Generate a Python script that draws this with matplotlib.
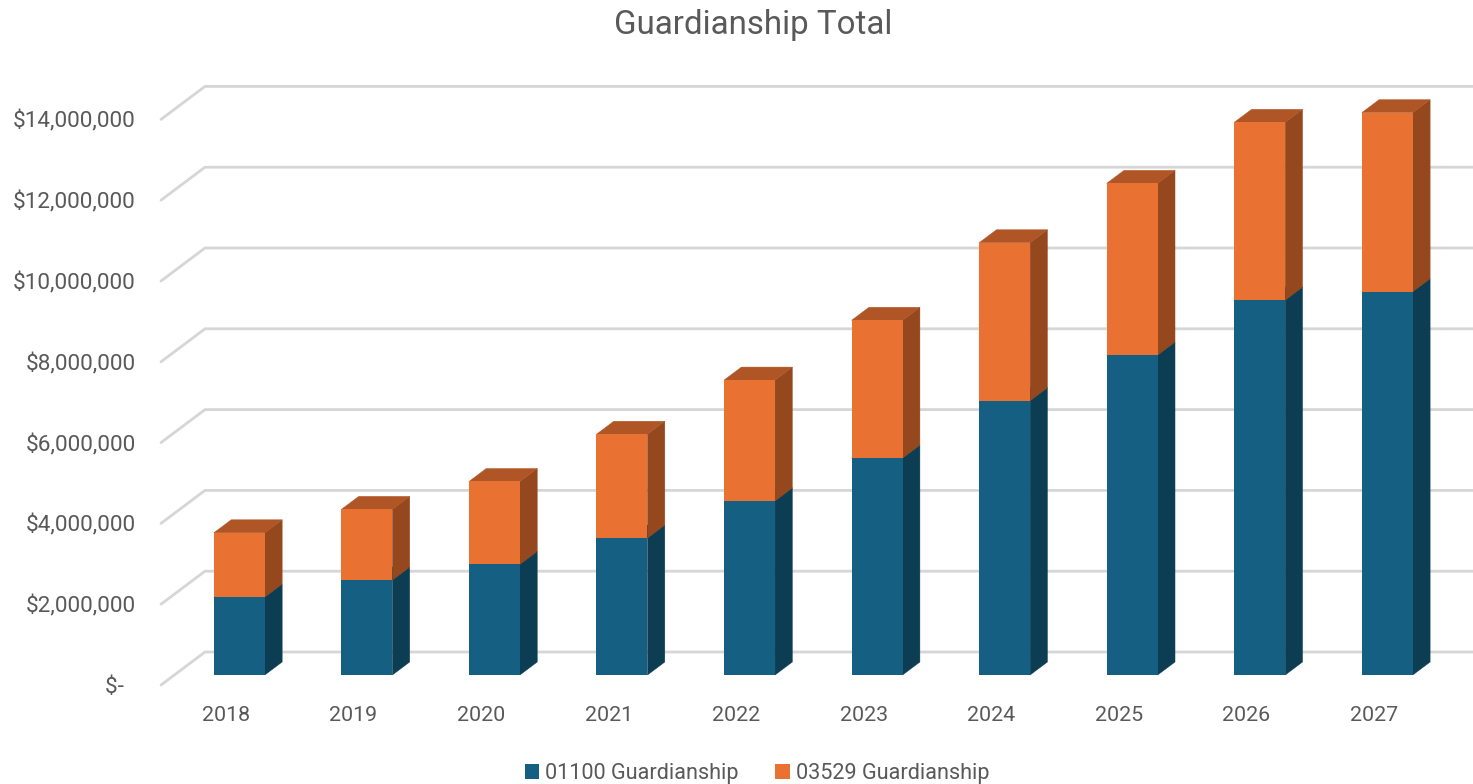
import matplotlib
matplotlib.use("Agg")
import matplotlib.pyplot as plt
from matplotlib.patches import Polygon
from matplotlib.transforms import IdentityTransform, Affine2D
from matplotlib.lines import Line2D

plt.rcParams['font.family'] = ['Roboto', 'DejaVu Sans']

years = ['2018', '2019', '2020', '2021', '2022', '2023', '2024', '2025', '2026', '2027']
series_01100 = [1930000, 2350000, 2740000, 3390000, 4310000, 5370000, 6790000, 7920000, 9280000, 9490000]
series_03529 = [1590000, 1750000, 2050000, 2570000, 2990000, 3410000, 3910000, 4250000, 4400000, 4430000]
series_names = ['01100 Guardianship', '03529 Guardianship']
grid_values = [0, 2000000, 4000000, 6000000, 8000000, 10000000, 12000000, 14000000]
grid_labels = ['$-  ', '$2,000,000', '$4,000,000', '$6,000,000', '$8,000,000',
               '$10,000,000', '$12,000,000', '$14,000,000']

W, H = 1473, 784
GREY = '#595959'
GRID = '#D6D6D6'
fig = plt.figure(figsize=(W / 100, H / 100), dpi=100, facecolor='white')

# Axes = front plane of the 3-D box, pixel geometry
left, right, bottom, top = 161, 1473, 685, 60
ax = fig.add_axes([left / W, 1 - bottom / H, (right - left) / W, (bottom - top) / H])
step = 127.55
x0 = 226
ax.set_xlim((left - x0) / step, (right - x0) / step)
scale = 2000000 / 80.8
ax.set_ylim(0, (bottom - top) * scale)
for s in ax.spines.values():
    s.set_visible(False)
ax.patch.set_alpha(0)

ax.set_xticks(range(len(years)), years)
ax.set_yticks(grid_values, grid_labels)
ax.tick_params(axis='both', length=0, labelcolor=GREY)
ax.tick_params(axis='y', pad=18.2, labelsize=16.2)
ax.tick_params(axis='x', pad=15, labelsize=15.4)

DX, DY = 44, 33  # full floor depth in pixels


def project(x, y, depth):
    px, py = ax.transData.transform((x, y))
    return (px + depth * DX, py + depth * DY)


# walls / gridlines
ident = IdentityTransform()
x_left = ax.get_xlim()[0]
x_right = ax.get_xlim()[1]
for v in grid_values:
    pts = [project(x_left, v, 0), project(x_left, v, 1), project(x_right, v, 1)]
    ax.add_line(Line2D([p[0] for p in pts], [p[1] for p in pts], transform=ident,
                       color=GRID, lw=2.0, solid_joinstyle='miter', solid_capstyle='round',
                       zorder=1, clip_on=False))

D0, D1 = 0.303, 0.697
BW = 51 / step
front = ax.transData + Affine2D().translate(D0 * DX, D0 * DY)

C_BLUE = ('#156082', '#0C3D52', '#0F4A63')
C_ORNG = ('#E97132', '#95481E', '#B05525')


def draw_face(pts, color, z):
    ax.add_patch(Polygon(pts, closed=True, facecolor=color, edgecolor=color, lw=0.3,
                         transform=ident, zorder=z, clip_on=False))


handles = []
for name, base_vals, vals, cols in [
    (series_names[0], [0] * len(years), series_01100, C_BLUE),
    (series_names[1], series_01100, series_03529, C_ORNG),
]:
    bars = ax.bar(range(len(years)), vals, width=BW, bottom=base_vals, color=cols[0],
                  transform=front, zorder=4, label=name, clip_on=False)
    handles.append(bars)
    for i, (b, v) in enumerate(zip(base_vals, vals)):
        xr = i + BW / 2
        xl = i - BW / 2
        t = b + v
        draw_face([project(xr, b, D0), project(xr, b, D1), project(xr, t, D1), project(xr, t, D0)], cols[1], 3)
        draw_face([project(xl, t, D0), project(xr, t, D0), project(xr, t, D1), project(xl, t, D1)], cols[2], 3)

fig.text(753 / W, 1 - 25 / H, 'Guardianship Total', ha='center', va='center',
         fontsize=23.9, color=GREY)

fig.legend(handles=handles, labels=series_names, loc='center',
           bbox_to_anchor=(757 / W, 1 - 773.5 / H), ncol=2, frameon=False,
           fontsize=15.6, labelcolor=GREY, handlelength=0.65, handleheight=0.65,
           handletextpad=0.28, columnspacing=1.7, borderpad=0, borderaxespad=0)

fig.savefig('out.png', dpi=100, facecolor='white')
